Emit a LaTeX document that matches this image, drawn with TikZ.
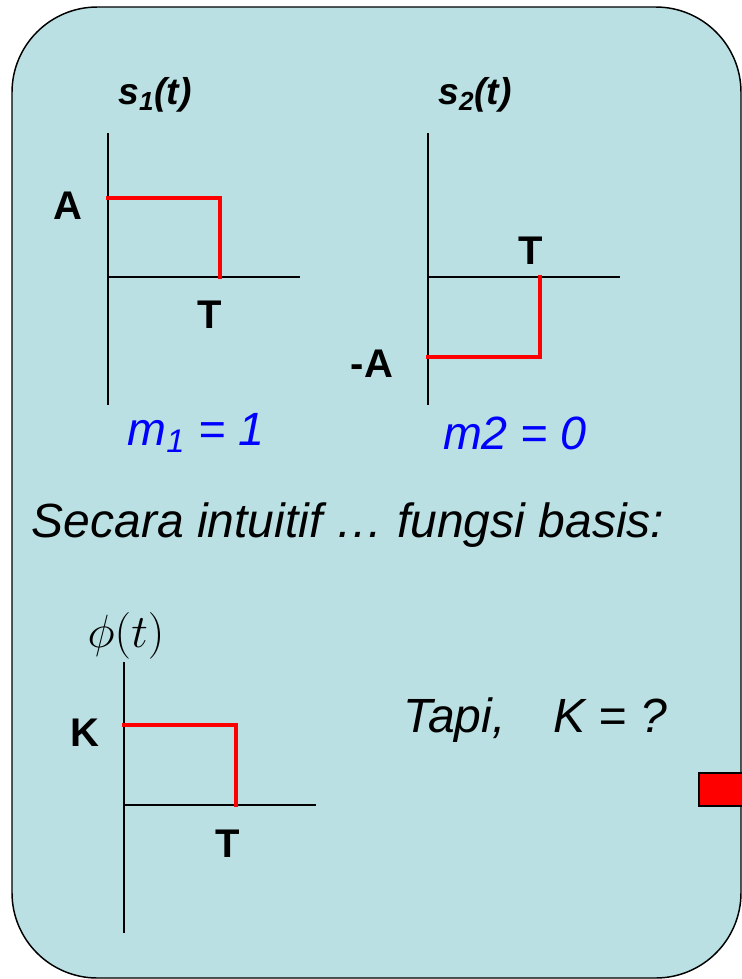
\documentclass[tikz,border=0pt]{standalone}
\usepackage{fix-cm}
\usepackage{fontspec}
\setmainfont{Liberation Sans}
\usepackage{tikz}
\usetikzlibrary{positioning}

\definecolor{panelblue}{RGB}{186,224,227}
\definecolor{textblue}{RGB}{0,0,255}

\tikzset{
  axisline/.style={black, line width=1.2pt},
  sigline/.style={red, line width=3.6pt},
  lbl/.style={font=\fontsize{30}{34}\selectfont\bfseries, inner sep=0pt},
  fnlbl/.style={font=\fontsize{28}{32}\selectfont\bfseries\itshape, inner sep=0pt},
  mlbl/.style={text=textblue, font=\fontsize{35}{40}\selectfont\itshape, inner sep=0pt},
  bigtxt/.style={font=\fontsize{36}{42}\selectfont\itshape, inner sep=0pt}
}

\begin{document}
\begin{tikzpicture}[x=0.75pt, y=-0.75pt]
  \useasboundingbox (0,0) rectangle (742,979);
  \fill[white] (0,0) rectangle (742,979);
  \draw[fill=panelblue, line width=1.1pt, rounded corners=64pt] (12,7) rectangle (741,978);

  % s1(t)
  \coordinate (o1) at (108,277);
  \draw[axisline] (108,133) -- (108,405);
  \draw[axisline] (o1) -- (300,277);
  \draw[sigline, line cap=rect] (108,198) -- (220,198) -- (220,277);
  \node[fnlbl] (s1) at (155,95) {s\textsubscript{1}(t)};
  \node[lbl] (a1) at (68,206) {A};
  \node[lbl] (t1) at (210,315) {T};
  \node[mlbl] (m1) at (196,433) {m\textsubscript{1} = 1};

  % s2(t)
  \coordinate (o2) at (428,277);
  \draw[axisline] (428,133) -- (428,405);
  \draw[axisline] (o2) -- (620,277);
  \draw[sigline, line cap=rect] (428,357) -- (540,357) -- (540,277);
  \node[fnlbl] (s2) at (475,95) {s\textsubscript{2}(t)};
  \node[lbl] (a2) at (372,364) {-A};
  \node[lbl] (t2) at (531,251) {T};
  \node[mlbl] (m2) at (515,433) {m2 = 0};

  \node[bigtxt] (intu) at (348,525) {Secara intuitif \dots{} fungsi basis:};

  % phi(t)
  \coordinate (o3) at (124,805);
  \draw[axisline] (124,662) -- (124,933);
  \draw[axisline] (o3) -- (316,805);
  \draw[sigline, line cap=rect] (124,725) -- (236,725) -- (236,805);
  \node[font=\fontsize{35}{40}\selectfont, inner sep=0pt] (phi) at (126,636) {$\phi(t)$};
  \node[lbl] (k) at (85,733) {K};
  \node[lbl] (t3) at (228,844) {T};
  \node[bigtxt] (tapi) at (535,720) {Tapi,\quad K = ?};

  \draw[fill=red, line width=1.8pt] (699,773) rectangle (760,806);
\end{tikzpicture}
\end{document}
